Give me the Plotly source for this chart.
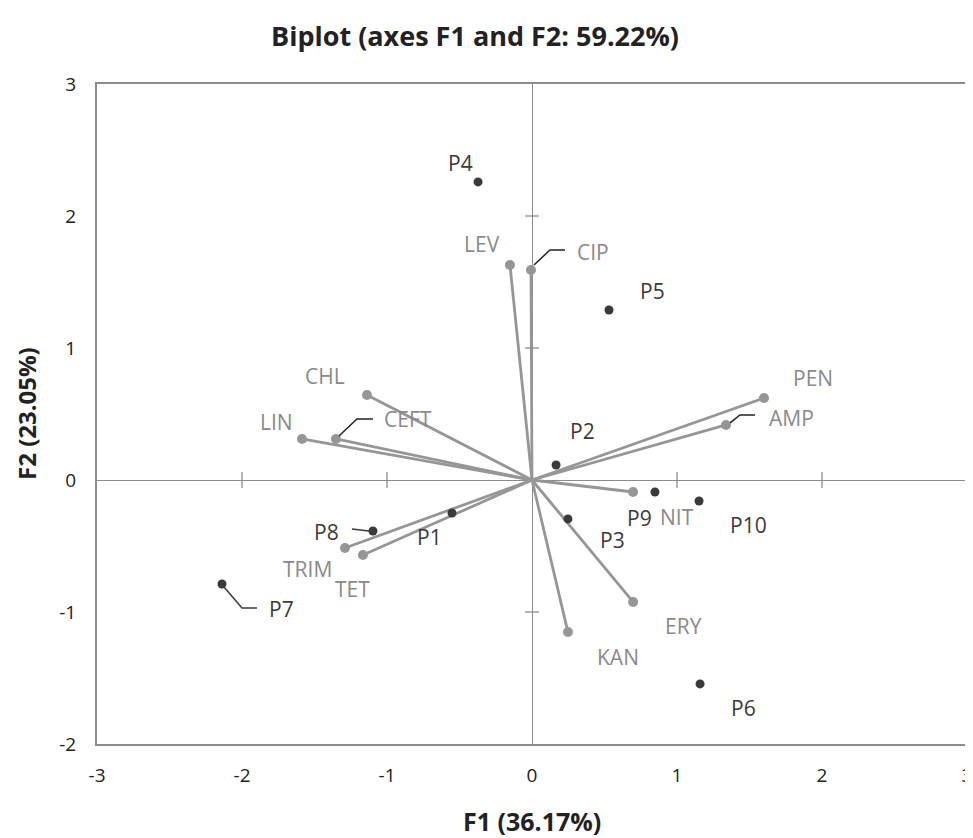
import plotly.graph_objects as go

# Observations (dark points)
obs_names = ["P1", "P2", "P3", "P4", "P5", "P6", "P7", "P8", "P9", "P10"]
obs_f1 = [-0.552, 0.166, 0.248, -0.372, 0.531, 1.159, -2.138, -1.097, 0.848, 1.152]
obs_f2 = [-0.250, 0.114, -0.295, 2.258, 1.288, -1.545, -0.788, -0.386, -0.091, -0.159]

# Variables (grey vectors)
var_names = ["LEV", "CIP", "CHL", "LIN", "CEFT", "PEN", "AMP", "NIT", "ERY", "KAN", "TRIM", "TET"]
var_f1 = [-0.152, -0.007, -1.138, -1.586, -1.352, 1.600, 1.338, 0.697, 0.697, 0.248, -1.290, -1.166]
var_f2 = [1.629, 1.591, 0.644, 0.311, 0.311, 0.621, 0.417, -0.091, -0.924, -1.152, -0.515, -0.568]

x_ticks = [-3, -2, -1, 0, 1, 2, 3]
x_ticktext = ["-3", "-2", "-1", "0", "1", "2", "3"]
y_ticks = [-2, -1, 0, 1, 2, 3]
y_ticktext = ["-2", "-1", "0", "1", "2", "3"]

# label offsets in pixels (style only)
obs_off = {"P1": (-22, -24), "P2": (26, 34), "P3": (45, -21), "P4": (-18, 19), "P5": (43, 19),
           "P6": (43, -24), "P7": (60, -25), "P8": (-46, -1), "P9": (-15, -26), "P10": (49, -24)}
var_off = {"LEV": (-28, 21), "CIP": (62, 18), "CHL": (-42, 19), "LIN": (-26, 17), "CEFT": (72, 20),
           "PEN": (49, 20), "AMP": (65, 7), "NIT": (44, -25), "ERY": (50, -24), "KAN": (50, -25),
           "TRIM": (-37, -21), "TET": (-10, -34)}
# leader lines (pixel paths relative to the point, y up)
leaders = {"CIP": "M3,5 L19,20 L34,20", "CEFT": "M3,3 L21,20 L37,20", "AMP": "M4,2 L14,10 L29,10",
           "P8": "M-21,2 L-4,0", "P7": "M2,-3 L20,-24 L35,-24"}

DARK = "#3a3a3a"
GREY = "#969696"
GREY_TXT = "#8a8a8a"
AXIS = "#8c8c8c"
FONT = "Open Sans"
LABEL_SIZE = 21

fig = go.Figure()

# vectors
vx, vy = [], []
for a, b in zip(var_f1, var_f2):
    vx += [0, a, None]
    vy += [0, b, None]
fig.add_trace(go.Scatter(x=vx, y=vy, mode="lines", line=dict(color=GREY, width=2.8),
                         hoverinfo="skip", showlegend=False))
fig.add_trace(go.Scatter(x=var_f1, y=var_f2, mode="markers", text=var_names,
                         marker=dict(color=GREY, size=10), showlegend=False))
fig.add_trace(go.Scatter(x=obs_f1, y=obs_f2, mode="markers", text=obs_names,
                         marker=dict(color=DARK, size=9), showlegend=False))

annotations = []
for n, a, b in zip(obs_names, obs_f1, obs_f2):
    dx, dy = obs_off[n]
    annotations.append(dict(x=a, y=b, xref="x", yref="y", text=n, showarrow=False,
                            xanchor="center", yanchor="middle",
                            xshift=dx, yshift=dy, font=dict(family=FONT, size=LABEL_SIZE, color=DARK)))
for n, a, b in zip(var_names, var_f1, var_f2):
    dx, dy = var_off[n]
    annotations.append(dict(x=a, y=b, xref="x", yref="y", text=n, showarrow=False,
                            xanchor="center", yanchor="middle",
                            xshift=dx, yshift=dy, font=dict(family=FONT, size=LABEL_SIZE, color=GREY_TXT)))

shapes = []
allx = dict(zip(obs_names + var_names, obs_f1 + var_f1))
ally = dict(zip(obs_names + var_names, obs_f2 + var_f2))
for n, p in leaders.items():
    col = DARK if n.startswith("P") else "#222222"
    shapes.append(dict(type="path", xref="x", yref="y", xsizemode="pixel", ysizemode="pixel",
                       xanchor=allx[n], yanchor=ally[n], path=p,
                       line=dict(color=col, width=1.5)))

# crossing tick marks on the zero axes
for t in x_ticks:
    if t not in (0, -3, 3):
        shapes.append(dict(type="line", xref="x", yref="y", ysizemode="pixel", yanchor=0,
                           x0=t, x1=t, y0=-8, y1=8, line=dict(color=AXIS, width=1.3)))
for t in y_ticks:
    if t not in (0, -2, 3):
        shapes.append(dict(type="line", xref="x", yref="y", xsizemode="pixel", xanchor=0,
                           x0=-7, x1=7, y0=t, y1=t, line=dict(color=AXIS, width=1.3)))

# axis titles and title (paper coords refer to the plot area)
annotations.append(dict(x=(475 - 97) / 870, y=1, xref="paper", yref="paper",
                        xanchor="center", yanchor="middle", yshift=49,
                        text="<b>Biplot (axes F1 and F2: 59.22%)</b>", showarrow=False,
                        font=dict(family=FONT, size=27, color="#222222")))
annotations.append(dict(x=0.5, y=0, xref="paper", yref="paper", xanchor="center", yanchor="middle",
                        yshift=-77, text="<b>F1 (36.17%)</b>", showarrow=False,
                        font=dict(family=FONT, size=25, color="#222222")))
annotations.append(dict(x=0, y=0.5, xref="paper", yref="paper", xanchor="center", yanchor="middle",
                        xshift=-71, textangle=-90,
                        text="<b>F2 (23.05%)</b>", showarrow=False,
                        font=dict(family=FONT, size=24, color="#222222")))

axis_common = dict(showgrid=False, zeroline=True, zerolinecolor=AXIS, zerolinewidth=1.3,
                   showline=True, mirror=True, linecolor=AXIS, linewidth=2,
                   ticks="outside", tickcolor="rgba(0,0,0,0)", automargin=False,
                   ticklabeloverflow="allow",
                   tickfont=dict(family=FONT, size=19, color="#222222"))

# page body has an 8px margin, so the figure is sized/offset to compensate
fig.update_layout(
    width=965, height=830,
    margin=dict(l=89, r=6, t=76, b=94, autoexpand=False),
    paper_bgcolor="white", plot_bgcolor="white",
    shapes=shapes, annotations=annotations,
    xaxis=dict(range=[-3, 3], tickvals=x_ticks, ticktext=x_ticktext, ticklen=13, **axis_common),
    yaxis=dict(range=[-2, 3], tickvals=y_ticks, ticktext=y_ticktext, ticklen=15, **axis_common),
)

fig.write_html("out.html")
